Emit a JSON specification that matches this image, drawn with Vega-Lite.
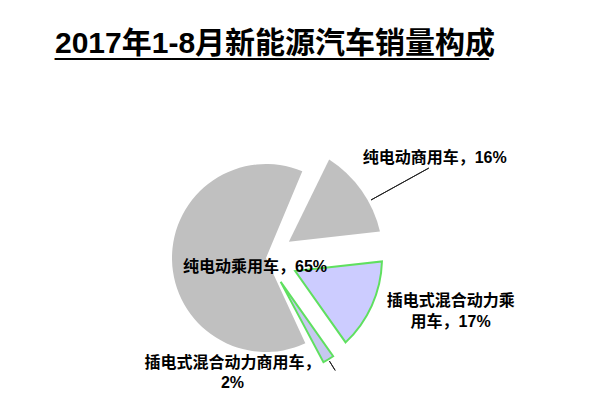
{
  "$schema": "https://vega.github.io/schema/vega-lite/v6.json",
  "autosize": "none",
  "width": 442,
  "height": 296,
  "padding": {"left": 45, "top": 110, "right": 113, "bottom": 2},
  "background": "white",
  "config": {"view": {"stroke": null}},
  "title": {
    "text": "2017年1-8月新能源汽车销量构成",
    "subtitle": "__________________________",
    "anchor": "start",
    "frame": "group",
    "font": "Liberation Sans, Noto Sans CJK SC",
    "fontSize": 30,
    "fontWeight": "bold",
    "color": "#000000",
    "subtitleFont": "Liberation Sans",
    "subtitleFontSize": 30,
    "subtitleColor": "#000000",
    "subtitlePadding": -29,
    "offset": 50,
    "dx": 10
  },
  "data": {
    "values": [
      {"category": "纯电动商用车", "value": 16, "label": "纯电动商用车，16%"},
      {"category": "插电式混合动力乘用车", "value": 17, "label": "插电式混合动力乘\n用车，17%"},
      {"category": "插电式混合动力商用车", "value": 2, "label": "插电式混合动力商用车，\n2%"},
      {"category": "纯电动乘用车", "value": 65, "label": "纯电动乘用车，65%"}
    ]
  },
  "layer": [
    {
      "transform": [
        {"stack": "value", "groupby": [], "sort": [{"field": "label", "order": "ascending"}], "as": ["v0", "v1"]},
        {"filter": "datum.category === '纯电动乘用车'"}
      ],
      "mark": {"type": "arc", "innerRadius": 0, "outerRadius": 94, "padAngle": 0.1139, "fill": "#c0c0c0"},
      "encoding": {
        "theta": {"field": "v0", "type": "quantitative", "scale": {"domain": [0, 100], "range": [1.459, 7.742]}},
        "theta2": {"field": "v1"}
      }
    },
    {
      "transform": [
        {"stack": "value", "groupby": [], "sort": [{"field": "label", "order": "ascending"}], "as": ["v0", "v1"]},
        {"filter": "datum.category === '纯电动商用车'"}
      ],
      "mark": {"type": "arc", "innerRadius": 28, "outerRadius": 117, "padAngle": 0.2266, "fill": "#c0c0c0"},
      "encoding": {
        "theta": {"field": "v0", "type": "quantitative", "scale": {"domain": [0, 100], "range": [1.459, 7.742]}},
        "theta2": {"field": "v1"}
      }
    },
    {
      "transform": [
        {"stack": "value", "groupby": [], "sort": [{"field": "label", "order": "ascending"}], "as": ["v0", "v1"]},
        {"filter": "datum.category === '插电式混合动力乘用车'"}
      ],
      "mark": {"type": "arc", "innerRadius": 32, "outerRadius": 116, "padAngle": 0.2735, "fill": "#ccccff", "stroke": "#5fe05f", "strokeWidth": 2},
      "encoding": {
        "theta": {"field": "v0", "type": "quantitative", "scale": {"domain": [0, 100], "range": [1.459, 7.742]}},
        "theta2": {"field": "v1"}
      }
    },
    {
      "transform": [
        {"stack": "value", "groupby": [], "sort": [{"field": "label", "order": "ascending"}], "as": ["v0", "v1"]},
        {"filter": "datum.category === '插电式混合动力商用车'"}
      ],
      "mark": {"type": "arc", "innerRadius": 28, "outerRadius": 119, "padAngle": 0.0292, "fill": "#c6c8f0", "stroke": "#5fe05f", "strokeWidth": 2},
      "encoding": {
        "theta": {"field": "v0", "type": "quantitative", "scale": {"domain": [0, 100], "range": [1.459, 7.742]}},
        "theta2": {"field": "v1"}
      }
    },
    {
      "transform": [
        {"stack": "value", "groupby": [], "sort": [{"field": "label", "order": "ascending"}], "as": ["v0", "v1"]},
        {"filter": "datum.category === '纯电动商用车'"}
      ],
      "mark": {"type": "arc", "innerRadius": 120, "outerRadius": 186, "padAngle": 3, "thetaOffset": 0.11, "theta2Offset": 0.11, "fill": null, "stroke": "#222222", "strokeWidth": 1},
      "encoding": {
        "theta": {"field": "v0", "type": "quantitative", "scale": {"domain": [0, 100], "range": [1.459, 7.742]}},
        "theta2": {"field": "v1"}
      }
    },
    {
      "transform": [
        {"stack": "value", "groupby": [], "sort": [{"field": "label", "order": "ascending"}], "as": ["v0", "v1"]},
        {"filter": "datum.category === '插电式混合动力商用车'"}
      ],
      "mark": {"type": "arc", "innerRadius": 121, "outerRadius": 132, "padAngle": 3, "fill": null, "stroke": "#222222", "strokeWidth": 1},
      "encoding": {
        "theta": {"field": "v0", "type": "quantitative", "scale": {"domain": [0, 100], "range": [1.459, 7.742]}},
        "theta2": {"field": "v1"}
      }
    },
    {
      "mark": {"type": "text", "radius": 160, "dx": -34, "dy": -8, "align": "left", "baseline": "middle", "font": "Liberation Sans, Noto Sans CJK SC", "fontSize": 16, "fontWeight": "bold", "color": "#000000"},
      "encoding": {
        "theta": {"field": "value", "type": "quantitative", "stack": true, "scale": {"domain": [0, 100], "range": [1.459, 7.742]}},
        "text": {"condition": {"test": "datum.category === '纯电动商用车'", "field": "label"}, "value": ""}
      }
    },
    {
      "mark": {"type": "text", "radius": 11, "dx": 0, "dy": 9, "align": "center", "baseline": "middle", "font": "Liberation Sans, Noto Sans CJK SC", "fontSize": 16, "fontWeight": "bold", "color": "#000000"},
      "encoding": {
        "theta": {"field": "value", "type": "quantitative", "stack": true, "scale": {"domain": [0, 100], "range": [1.459, 7.742]}},
        "text": {"condition": {"test": "datum.category === '纯电动乘用车'", "field": "label"}, "value": ""}
      }
    },
    {
      "mark": {"type": "text", "radius": 175, "dx": 25, "dy": -29, "align": "center", "baseline": "middle", "lineBreak": "\n", "lineHeight": 21, "font": "Liberation Sans, Noto Sans CJK SC", "fontSize": 16, "fontWeight": "bold", "color": "#000000"},
      "encoding": {
        "theta": {"field": "value", "type": "quantitative", "stack": true, "scale": {"domain": [0, 100], "range": [1.459, 7.742]}},
        "text": {"condition": {"test": "datum.category === '插电式混合动力乘用车'", "field": "label"}, "value": ""}
      }
    },
    {
      "mark": {"type": "text", "radius": 125, "dx": -99, "dy": -1, "align": "center", "baseline": "middle", "lineBreak": "\n", "lineHeight": 20, "font": "Liberation Sans, Noto Sans CJK SC", "fontSize": 16, "fontWeight": "bold", "color": "#000000"},
      "encoding": {
        "theta": {"field": "value", "type": "quantitative", "stack": true, "scale": {"domain": [0, 100], "range": [1.459, 7.742]}},
        "text": {"condition": {"test": "datum.category === '插电式混合动力商用车'", "field": "label"}, "value": ""}
      }
    }
  ]
}
